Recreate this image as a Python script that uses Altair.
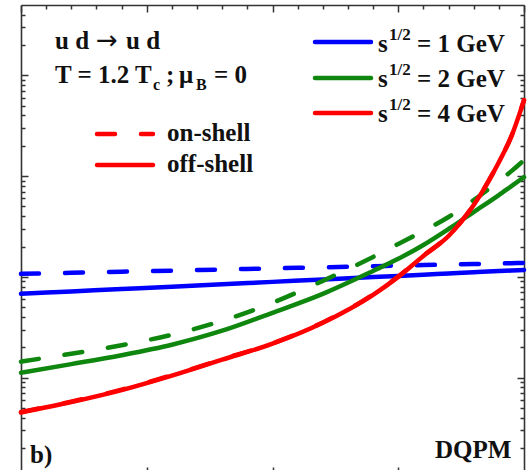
import altair as alt
import pandas as pd

# ---------------- data ----------------
cos_theta = [-1.0, -0.8, -0.6, -0.4, -0.2, 0.0, 0.2, 0.4, 0.5, 0.6, 0.7, 0.8, 0.9, 0.95, 1.0]

s1_on = [0.1071, 0.1098, 0.1126, 0.1154, 0.1184, 0.1214, 0.1245, 0.1276, 0.1294, 0.1310, 0.1325, 0.1342, 0.1359, 0.1367, 0.1376]
s1_off = [0.0679, 0.0717, 0.0757, 0.0800, 0.0845, 0.0892, 0.0942, 0.0995, 0.1023, 0.1051, 0.1081, 0.1111, 0.1141, 0.1157, 0.1173]
s2_on = [0.01440, 0.01728, 0.02098, 0.02665, 0.03667, 0.05528, 0.09129, 0.1578, 0.2122, 0.2854, 0.3927, 0.5786, 0.8922, 1.121, 1.440]
s2_off = [0.0112, 0.01361, 0.01670, 0.02122, 0.02920, 0.04401, 0.06788, 0.1146, 0.151, 0.2074, 0.2987, 0.4404, 0.6485, 0.796, 0.977]
s4_on = [0.00455, 0.00578, 0.00760, 0.01058, 0.01522, 0.0219, 0.0353, 0.0669, 0.1008, 0.1625, 0.2560, 0.519, 1.381, 2.50, 5.68]
s4_off = [0.004502, 0.005720, 0.007518, 0.01047, 0.01508, 0.02171, 0.03504, 0.06634, 0.1000, 0.1614, 0.2546, 0.5163, 1.376, 2.489, 5.655]

y_major = [0.01, 0.1, 1, 10]
y_minor = [m * 10.0 ** e for e in (-3, -2, -1, 0, 1) for m in range(2, 10) if 0.00121 < m * 10.0 ** e < 50]
x_major = [-1.0, -0.5, 0.0, 0.5, 1.0]
x_minor = [-0.9, -0.8, -0.7, -0.6, -0.4, -0.3, -0.2, -0.1, 0.1, 0.2, 0.3, 0.4, 0.6, 0.7, 0.8, 0.9]

series = [
    ("s1_on", s1_on), ("s1_off", s1_off),
    ("s2_on", s2_on), ("s2_off", s2_off),
    ("s4_on", s4_on), ("s4_off", s4_off),
]
rows = []
for name, vals in series:
    for c, v in zip(cos_theta, vals):
        rows.append({"cos": c, "val": v, "series": name})
df = pd.DataFrame(rows)

BLUE = "#0000ff"
GREEN = "#0f870f"
RED = "#ff0000"
FRAME = "#333333"
FONT = "Liberation Serif"
LW = 4.5
DASH = [18, 26]

PAD_L, PAD_T = 21, 5
W, H = 503, 465

xs = alt.Scale(domain=[-1, 1], nice=False, zero=False)
ys = alt.Scale(type="log", domain=[0.00121, 50], nice=False)


def axis(orient, values, size, domain):
    return alt.Axis(orient=orient, values=values, labels=False, title="", grid=False,
                    tickSize={"expr": str(-size)}, tickColor=FRAME, tickWidth=1.5,
                    domain=domain, domainColor=FRAME, domainWidth=1.6)


def axis_layer(xaxis, yaxis):
    xenc = alt.X("cos:Q", scale=xs, axis=xaxis) if xaxis is not None else alt.X("cos:Q", scale=xs, axis=None)
    return alt.Chart(df).mark_point(opacity=0, size=1).encode(
        x=xenc, y=alt.Y("val:Q", scale=ys, axis=yaxis))


axes = [
    axis_layer(axis("top", x_major, 7, True), axis("left", y_major, 7, True)),
    axis_layer(axis("top", x_minor, 4, False), axis("left", y_minor, 4, False)),
    axis_layer(axis("bottom", [-0.5, 0.0, 0.5], 3, False), axis("right", y_major, 7, True)),
    axis_layer(None, axis("right", y_minor, 4, False)),
]


def curve(name, color, dashed):
    kw = dict(color=color, strokeWidth=LW, interpolate="monotone", strokeCap="round")
    if dashed:
        kw["strokeDash"] = DASH
    return alt.Chart(df).transform_filter(alt.datum.series == name).mark_line(**kw).encode(
        x=alt.X("cos:Q", scale=xs, axis=None),
        y=alt.Y("val:Q", scale=ys, axis=None),
        order="cos:Q",
    )


curves = [
    curve("s1_off", BLUE, False), curve("s1_on", BLUE, True),
    curve("s2_off", GREEN, False), curve("s2_on", GREEN, True),
    curve("s4_on", RED, True), curve("s4_off", RED, False),
]


def label(txt, x, y, size=25, font=FONT, weight="bold"):
    return alt.Chart(pd.DataFrame({"t": [txt]})).mark_text(
        align="left", baseline="alphabetic", font=font, fontSize=size,
        fontWeight=weight, color="#111111").encode(
        x=alt.value(x - PAD_L), y=alt.value(y - PAD_T), text="t:N")


def legline(color, x1, x2, y, dashed=False):
    kw = dict(color=color, strokeWidth=LW, strokeCap="round")
    if dashed:
        kw["strokeDash"] = DASH
    return alt.Chart(pd.DataFrame({"a": [0]})).mark_rule(**kw).encode(
        x=alt.value(x1 - PAD_L), x2=alt.value(x2 - PAD_L), y=alt.value(y - PAD_T))


texts = [
    label("u d", 55, 49),
    label("\u2192", 96, 49, 26, "DejaVu Sans", "normal"),
    label("u d", 126, 49),
    label("T = 1.2 T", 55, 83),
    label("c", 153, 90, 16),
    label(";", 166, 83),
    label("\u03bc", 179, 83),
    label("B", 196, 90, 16),
    label("= 0", 214, 83),
    legline(RED, 97, 153, 134, True),
    label("on-shell", 167, 141),
    legline(RED, 97, 153, 165),
    label("off-shell", 167, 172),
    legline(BLUE, 315, 371, 42),
    legline(GREEN, 315, 371, 78),
    legline(RED, 315, 371, 113),
]
for lab, yb in [("= 1 GeV", 52), ("= 2 GeV", 87), ("= 4 GeV", 122)]:
    texts.append(label("s", 378, yb))
    texts.append(label("1/2", 389, yb - 12, 17))
    texts.append(label(lab, 417, yb))
texts.append(label("b)", 30, 463))
texts.append(label("DQPM", 435, 458))

chart = alt.layer(*axes, *curves, *texts).resolve_axis(
    x="independent", y="independent"
).properties(
    width=W, height=H,
    autosize=alt.AutoSizeParams(type="none"),
    padding={"left": PAD_L, "top": PAD_T, "right": 5, "bottom": 0},
).configure_view(stroke="transparent")

chart.save("out.html", embed_options={"renderer": "svg", "actions": False})
